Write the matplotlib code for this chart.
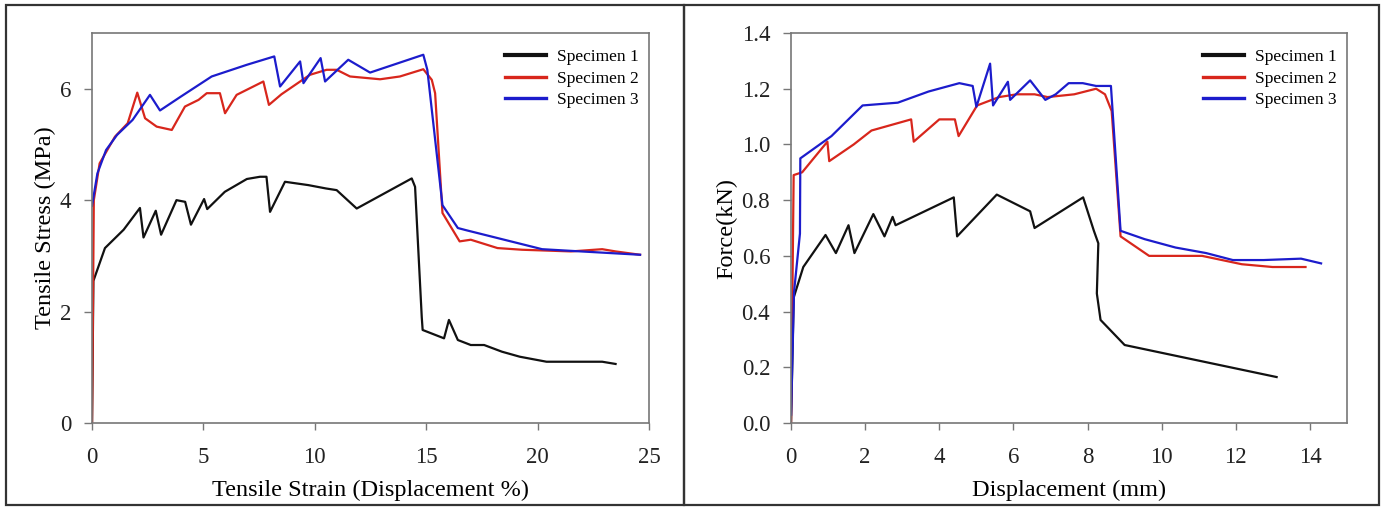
import matplotlib
matplotlib.use('Agg')
import matplotlib.pyplot as plt
from matplotlib.patches import Rectangle
from matplotlib.lines import Line2D

plt.rcParams.update({'font.family': ['Liberation Serif', 'DejaVu Serif'],
                     'axes.unicode_minus': False})

# ---------------- (a) stress-strain ----------------
s1_strain = [0, 0.06, 0.58, 1.42, 2.15, 2.31, 2.86, 3.10, 3.79, 4.18, 4.44, 5.03, 5.17,
             5.96, 6.95, 7.54, 7.83, 7.99, 8.66, 9.71, 10.5, 10.98, 11.88, 14.35, 14.5,
             14.8, 14.84, 15.8, 16.02, 16.42, 17.0, 17.6, 18.4, 19.2, 20.4, 22.3, 22.9, 23.5]
s1_stress = [0, 2.55, 3.14, 3.47, 3.86, 3.33, 3.81, 3.38, 4.00, 3.97, 3.56, 4.02, 3.84,
             4.15, 4.38, 4.42, 4.42, 3.79, 4.33, 4.27, 4.21, 4.18, 3.85, 4.39, 4.24,
             1.90, 1.67, 1.52, 1.85, 1.49, 1.40, 1.40, 1.28, 1.19, 1.10, 1.10, 1.10, 1.06]

s2_strain = [0, 0.08, 0.34, 1.03, 1.6, 2.03, 2.38, 2.9, 3.58, 4.17, 4.78, 5.15, 5.74,
             5.97, 6.49, 7.69, 7.94, 8.5, 9.78, 10.53, 10.98, 11.58, 12.93, 13.82, 14.87,
             15.25, 15.4, 15.73, 16.5, 17.0, 18.2, 19.3, 21.5, 22.9, 23.5, 24.6]
s2_stress = [0, 4.0, 4.66, 5.14, 5.38, 5.93, 5.47, 5.32, 5.26, 5.68, 5.80, 5.92, 5.92,
             5.56, 5.89, 6.13, 5.71, 5.90, 6.25, 6.34, 6.34, 6.22, 6.17, 6.22, 6.35,
             6.16, 5.92, 3.77, 3.26, 3.29, 3.14, 3.11, 3.08, 3.12, 3.08, 3.02]

s3_strain = [0, 0.24, 0.63, 1.12, 1.82, 2.6, 3.05, 3.99, 5.37, 6.95, 8.18, 8.44, 9.34,
             9.49, 10.26, 10.46, 11.5, 12.48, 14.87, 15.05, 15.73, 16.42, 16.8, 20.2,
             21.5, 24.6]
s3_stress = [3.9, 4.48, 4.90, 5.17, 5.44, 5.89, 5.61, 5.86, 6.22, 6.43, 6.58, 6.04, 6.49,
             6.10, 6.55, 6.13, 6.52, 6.29, 6.61, 6.34, 3.91, 3.50, 3.46, 3.12,
             3.09, 3.02]

# ---------------- (b) force-displacement ----------------
f1_disp = [0, 0.07, 0.33, 0.93, 1.21, 1.55, 1.71, 2.22, 2.52, 2.74, 2.82, 4.39, 4.48,
           5.55, 6.45, 6.57, 7.88, 8.17, 8.29, 8.25, 8.35, 9.0, 13.1]
f1_force = [0, 0.45, 0.56, 0.675, 0.61, 0.71, 0.61, 0.75, 0.67, 0.74, 0.71, 0.81, 0.67,
            0.82, 0.76, 0.70, 0.81, 0.69, 0.645, 0.465, 0.37, 0.28, 0.165]

f2_disp = [0, 0.07, 0.3, 0.98, 1.03, 1.69, 2.17, 3.24, 3.31, 4.0, 4.42, 4.52, 5.02,
           5.61, 6.09, 6.57, 6.92, 7.64, 8.23, 8.47, 8.65, 8.89, 9.66, 11.09, 12.16,
           12.99, 13.88]
f2_force = [0, 0.89, 0.90, 1.01, 0.94, 1.00, 1.05, 1.09, 1.01, 1.09, 1.09, 1.03, 1.14,
            1.17, 1.18, 1.18, 1.17, 1.18, 1.20, 1.18, 1.12, 0.67, 0.60, 0.60, 0.57,
            0.56, 0.56]

f3_disp = [0, 0.08, 0.24, 0.25, 1.09, 1.93, 2.88, 3.71, 4.54, 4.90, 5.0, 5.37, 5.45,
           5.85, 5.91, 6.45, 6.86, 7.14, 7.49, 7.87, 8.23, 8.63, 8.89, 9.54, 10.37,
           11.2, 11.92, 12.75, 13.76, 14.3]
f3_force = [0.03, 0.47, 0.68, 0.95, 1.03, 1.14, 1.15, 1.19, 1.22, 1.21, 1.135, 1.29, 1.14,
            1.225, 1.16, 1.23, 1.16, 1.18, 1.22, 1.22, 1.21, 1.21, 0.69, 0.66, 0.63,
            0.61, 0.585, 0.585, 0.59, 0.573]

labels = ['Specimen 1', 'Specimen 2', 'Specimen 3']
colors = ['#111111', '#d8261c', '#1c1ccc']

fig = plt.figure(figsize=(13.82, 5.08), dpi=100)
ax1 = fig.add_axes([0.0666, 0.1673, 0.403, 0.7677])
ax2 = fig.add_axes([0.5724, 0.1673, 0.4023, 0.7677])

for x, y, c, lab in [(s1_strain, s1_stress, colors[0], labels[0]),
                     (s2_strain, s2_stress, colors[1], labels[1]),
                     (s3_strain, s3_stress, colors[2], labels[2])]:
    ax1.plot(x, y, color=c, lw=1.6, label=lab)
for x, y, c, lab in [(f1_disp, f1_force, colors[0], labels[0]),
                     (f2_disp, f2_force, colors[1], labels[1]),
                     (f3_disp, f3_force, colors[2], labels[2])]:
    ax2.plot(x, y, color=c, lw=1.6, label=lab)

ax1.set_xlim(0, 25); ax1.set_ylim(0, 7)
ax1.set_xticks([0, 5, 10, 15, 20, 25]); ax1.set_yticks([0, 2, 4, 6])
ax1.set_xlabel('Tensile Strain (Displacement %)', fontsize=17.5, labelpad=9)
ax1.set_ylabel('Tensile Stress (MPa)', fontsize=17.5, labelpad=3)

ax2.set_xlim(0, 15); ax2.set_ylim(0, 1.4)
ax2.set_xticks(range(0, 15, 2))
ax2.set_yticks([0.0, 0.2, 0.4, 0.6, 0.8, 1.0, 1.2, 1.4])
ax2.set_yticklabels([f'{v:.1f}' for v in ax2.get_yticks()])
ax2.set_xlabel('Displacement (mm)', fontsize=17.5, labelpad=9)
ax2.set_ylabel('Force(kN)', fontsize=17.5, labelpad=3)

for ax in (ax1, ax2):
    for sp in ax.spines.values():
        sp.set_color('#777777'); sp.set_linewidth(1.2)
    ax.tick_params(direction='out', width=1, color='#777777',
                   labelsize=16.5, labelcolor='#222222', top=False, right=False)
    ax.tick_params(axis='x', length=5, pad=12)
    ax.tick_params(axis='y', length=6, pad=9)
    handles = [Line2D([], [], color=c, lw=3 if i == 0 else 2.4)
               for i, c in enumerate(colors)]
    ax.legend(handles, labels, loc='upper right', frameon=False, fontsize=12.5,
              handlelength=2.4, handletextpad=0.6, labelspacing=0.3,
              borderaxespad=0.2, bbox_to_anchor=(1.0, 0.985))

# panel frames
for x0, w in [(0.004, 0.491), (0.495, 0.503)]:
    fig.patches.append(Rectangle((x0, 0.006), w, 0.984, transform=fig.transFigure,
                                 fill=False, edgecolor='#333333', lw=1.6))

fig.savefig('out.png', dpi=100)
